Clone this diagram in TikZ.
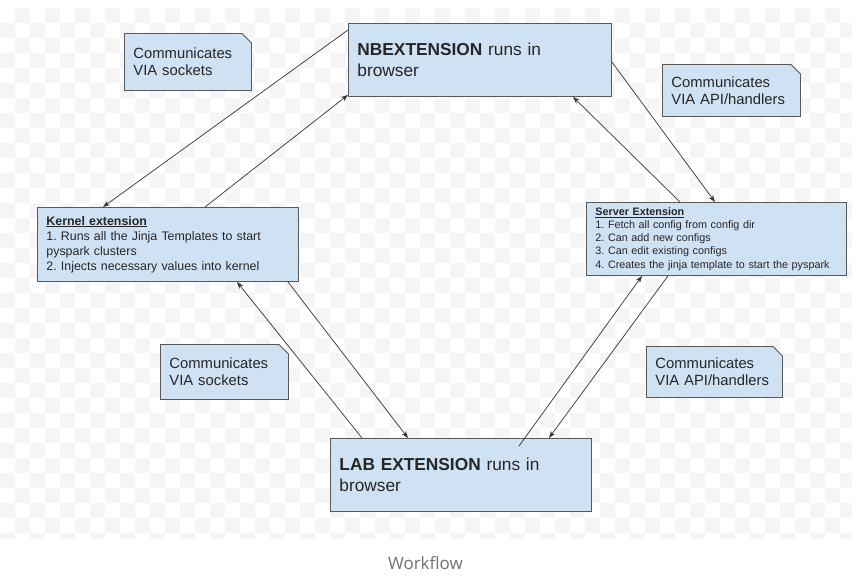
\documentclass[tikz,border=0pt]{standalone}
\usepackage{xcolor}
\usepackage{fontspec}
\setmainfont{Liberation Sans}
\newfontfamily\captionfont{Open Sans}
\usepackage{tikz}
\usetikzlibrary{arrows, arrows.meta, shapes}
\definecolor{boxfill}{HTML}{CFE2F3}
\definecolor{boxline}{HTML}{595959}
\definecolor{linkcol}{HTML}{333333}
\definecolor{checker}{HTML}{F5F5F5}
\definecolor{captiongray}{HTML}{707070}
\frenchspacing

\begin{document}
\begin{tikzpicture}[x=1pt, y=-1pt]
			\tikzstyle{every node} = [text = black!85]
			\tikzstyle{box} = [draw = boxline, fill = boxfill, line width = 0.9pt, anchor = north west, align = left, inner xsep = 9pt, inner ysep = 0pt]
			\tikzstyle{note} = [box, chamfered rectangle, chamfered rectangle corners = north east, chamfered rectangle xsep = 6pt, inner xsep = 3pt, font = \fontsize{14.8}{17.3}\selectfont]
			\tikzstyle{link} = [draw, ->, >={Stealth[length=7pt, width=5pt]}, color = linkcol, line width = 0.7pt]
				\useasboundingbox (0,0) rectangle (859,576);
				% faint checkered backdrop
				\begin{scope}
					\clip (0,8) rectangle (852,538);
					\foreach \i in {0,...,56}
						\foreach \j in {0,...,35} {
							\pgfmathtruncatemacro{\chk}{mod(\i+\j,2)}
							\ifnum\chk=1 \fill[checker] (15*\i,8+15*\j) rectangle ++(15,15); \fi
						}
				\end{scope}
				% main boxes
				\node[box, text width = 245pt, minimum height = 73pt, font = \fontsize{17.3}{21}\selectfont] (nb) at (348,23)
					{\textbf{NBEXTENSION} runs in\\browser};
				\node[box, text width = 243pt, minimum height = 74pt, font = \fontsize{12.4}{15.1}\selectfont] (kernel) at (37,207)
					{\underline{\textbf{Kernel extension}}\\1. Runs all the Jinja Templates to start\\pyspark clusters\\2. Injects necessary values into kernel};
				\node[box, text width = 242pt, minimum height = 73pt, font = \fontsize{10.8}{13.15}\selectfont] (server) at (586,202)
					{\underline{\textbf{Server Extension}}\\1. Fetch all config from config dir\\2. Can add new configs\\3. Can edit existing configs\\\mbox{4. Creates the jinja template to start the pyspark}};
				\node[box, text width = 243pt, minimum height = 73pt, font = \fontsize{17.3}{21}\selectfont] (lab) at (330,438)
					{\textbf{LAB EXTENSION} runs in\\browser};
				% notes
				\node[note, text width = 109pt, minimum height = 57pt] (socktop) at (124,33) {Communicates\\VIA sockets};
				\node[note, text width = 120pt, minimum height = 52pt] (apitop) at (662,64) {Communicates\\VIA API/handlers};
				\node[note, text width = 110pt, minimum height = 55pt] (sockbot) at (160,344) {Communicates\\VIA sockets};
				\node[note, text width = 118pt, minimum height = 51pt] (apibot) at (646,346) {Communicates\\VIA API/handlers};
				% links
				\path[link] ([yshift=-7pt]nb.north west) -- ([xshift=66pt]kernel.north west);
				\path[link] ([xshift=168pt]kernel.north west) -- ([yshift=2pt]nb.south west);
				\path[link] ([yshift=-39pt]nb.north east) -- ([xshift=129pt]server.north west);
				\path[link] ([xshift=94pt]server.north west) -- ([xshift=225pt]nb.south west);
				\path[link] ([xshift=32pt]lab.north west) -- ([xshift=200pt]kernel.south west);
				\path[link] ([xshift=251pt]kernel.south west) -- ([xshift=78pt]lab.north west);
				\path[link] ([xshift=189pt, yshift=-8pt]lab.north west) -- ([xshift=56pt]server.south west);
				\path[link] ([xshift=82pt]server.south west) -- ([xshift=219pt]lab.north west);
				% caption
				\node[font = \captionfont\fontsize{17}{20}\selectfont, text = captiongray] (caption) at (425.5,563) {Workflow};
		\end{tikzpicture}
\end{document}
